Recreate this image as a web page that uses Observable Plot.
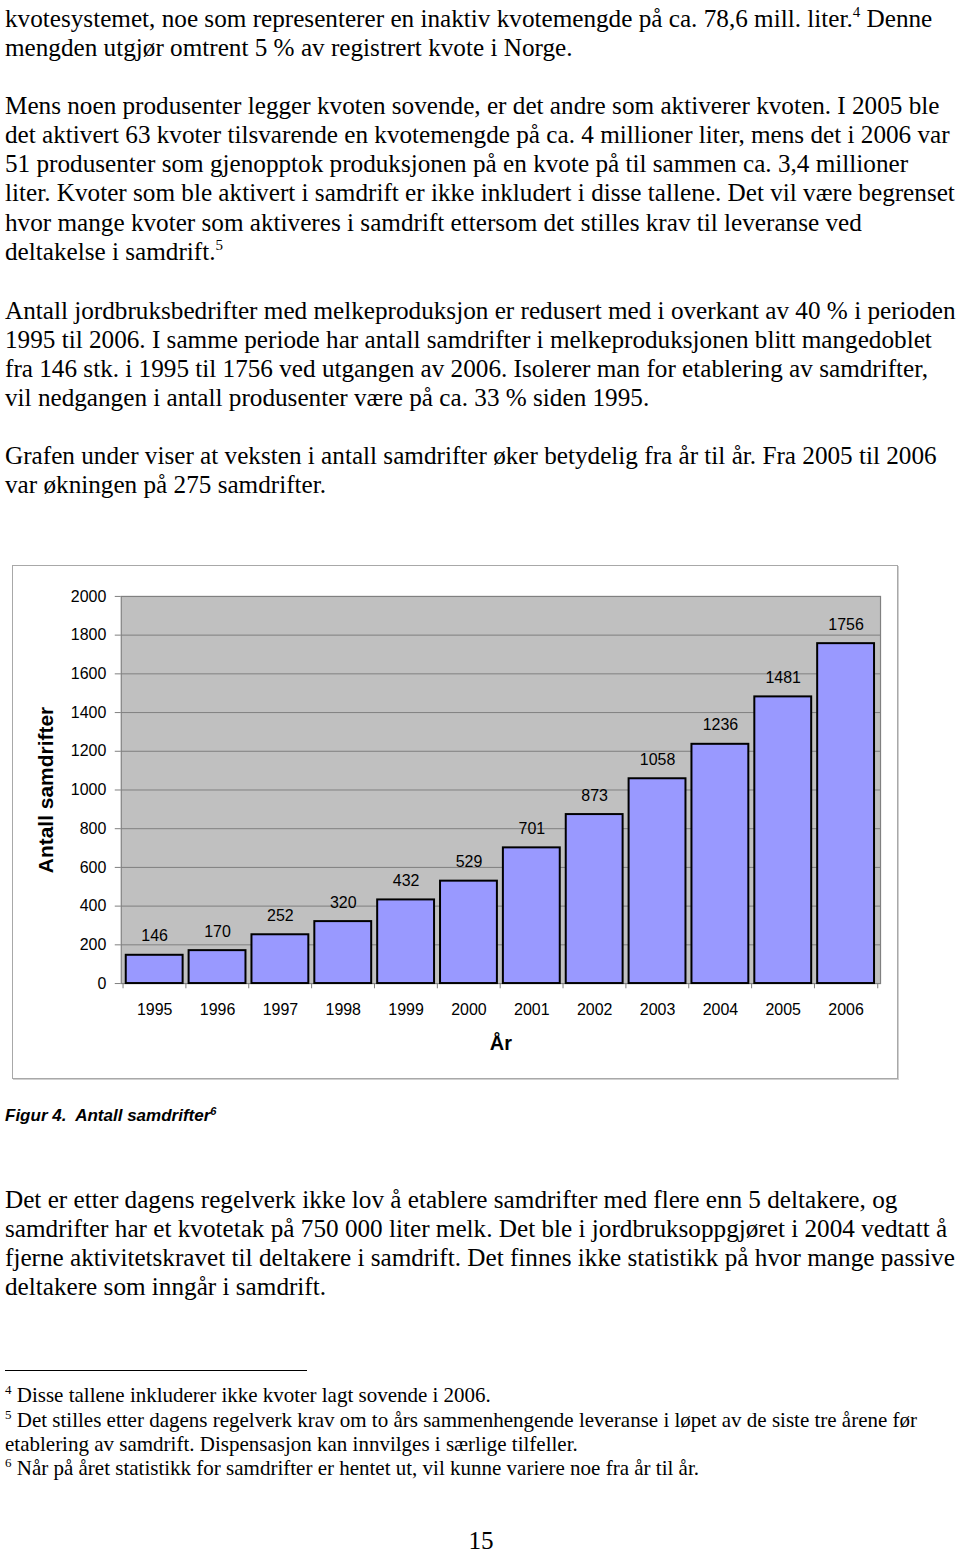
<!DOCTYPE html>
<html>
<head>
<meta charset="utf-8">
<script src="https://cdn.jsdelivr.net/npm/d3@7"></script>
<script src="https://cdn.jsdelivr.net/npm/@observablehq/plot@0.6"></script>
<style>
  html, body { margin: 0; padding: 0; background: #fff; }
  body { width: 960px; height: 1551px; position: relative; overflow: hidden; }
  .ln { position: absolute; left: 5px; white-space: nowrap; font-family: "Liberation Serif", "Times New Roman", serif; font-size: 25.2px; line-height: 29px; color: #000; }
  .ln sup { font-size: 15px; vertical-align: 0; position: relative; top: -10px; }
  .fn { position: absolute; left: 5px; white-space: nowrap; font-family: "Liberation Serif", "Times New Roman", serif; font-size: 21px; line-height: 24px; color: #000; }
  .fn sup { font-size: 13px; position: relative; top: -8px; vertical-align: 0; }
  #chartbox { position: absolute; left: 12px; top: 565px; width: 884px; height: 512px; border: 1px solid #a8a8a8; box-shadow: 1px 1px 0 #d0d0d0; }
  #chartbox svg { position: absolute; left: -1px; top: -1px; }
  #caption { position: absolute; left: 5px; top: 1105px; font-family: "Liberation Sans", Arial, sans-serif; font-weight: bold; font-style: italic; font-size: 17px; line-height: 22px; }
  #caption sup { font-size: 11px; position: relative; top: -6px; vertical-align: 0; }
  #rule { position: absolute; left: 5px; top: 1370px; width: 302px; height: 0; border-top: 1.5px solid #000; }
  #pagenum { position: absolute; left: 0; width: 962px; text-align: center; top: 1526px; font-family: "Liberation Serif", "Times New Roman", serif; font-size: 25.2px; line-height: 29px; }
</style>
</head>
<body>
<div id="text"></div>
<div id="chartbox"></div>
<div id="caption">Figur 4.&nbsp; Antall samdrifter<sup>6</sup></div>
<div id="rule"></div>
<div id="foot"></div>
<div id="pagenum">15</div>
<script>
// ---- chart data ----
const years = ["1995","1996","1997","1998","1999","2000","2001","2002","2003","2004","2005","2006"];
const counts = [146, 170, 252, 320, 432, 529, 701, 873, 1058, 1236, 1481, 1756];
const yTicks = [0, 200, 400, 600, 800, 1000, 1200, 1400, 1600, 1800, 2000];
const yLabel = "Antall samdrifter";
const xLabel = "År";

// ---- page text (line by line as in the original) ----
const bodyLines = [
  [18, "kvotesystemet, noe som representerer en inaktiv kvotemengde på ca. 78,6 mill. liter.<sup>4</sup> Denne"],
  [47, "mengden utgjør omtrent 5 % av registrert kvote i Norge."],
  [105, "Mens noen produsenter legger kvoten sovende, er det andre som aktiverer kvoten. I 2005 ble"],
  [134, "det aktivert 63 kvoter tilsvarende en kvotemengde på ca. 4 millioner liter, mens det i 2006 var"],
  [163, "51 produsenter som gjenopptok produksjonen på en kvote på til sammen ca. 3,4 millioner"],
  [192, "liter. Kvoter som ble aktivert i samdrift er ikke inkludert i disse tallene. Det vil være begrenset"],
  [222, "hvor mange kvoter som aktiveres i samdrift ettersom det stilles krav til leveranse ved"],
  [251, "deltakelse i samdrift.<sup>5</sup>"],
  [310, "Antall jordbruksbedrifter med melkeproduksjon er redusert med i overkant av 40 % i perioden"],
  [339, "1995 til 2006. I samme periode har antall samdrifter i melkeproduksjonen blitt mangedoblet"],
  [368, "fra 146 stk. i 1995 til 1756 ved utgangen av 2006. Isolerer man for etablering av samdrifter,"],
  [397, "vil nedgangen i antall produsenter være på ca. 33 % siden 1995."],
  [455, "Grafen under viser at veksten i antall samdrifter øker betydelig fra år til år. Fra 2005 til 2006"],
  [484, "var økningen på 275 samdrifter."],
  [1199, "Det er etter dagens regelverk ikke lov å etablere samdrifter med flere enn 5 deltakere, og"],
  [1228, "samdrifter har et kvotetak på 750 000 liter melk. Det ble i jordbruksoppgjøret i 2004 vedtatt å"],
  [1257, "fjerne aktivitetskravet til deltakere i samdrift. Det finnes ikke statistikk på hvor mange passive"],
  [1286, "deltakere som inngår i samdrift."]
];
const footLines = [
  [1395, "<sup>4</sup> Disse tallene inkluderer ikke kvoter lagt sovende i 2006."],
  [1420, "<sup>5</sup> Det stilles etter dagens regelverk krav om to års sammenhengende leveranse i løpet av de siste tre årene før"],
  [1444, "etablering av samdrift. Dispensasjon kan innvilges i særlige tilfeller."],
  [1468, "<sup>6</sup> Når på året statistikk for samdrifter er hentet ut, vil kunne variere noe fra år til år."]
];

const textDiv = document.getElementById("text");
for (const [cy, html] of bodyLines) {
  const d = document.createElement("div");
  d.className = "ln"; d.style.top = (cy - 14.5) + "px"; d.innerHTML = html;
  textDiv.appendChild(d);
}
const footDiv = document.getElementById("foot");
for (const [cy, html] of footLines) {
  const d = document.createElement("div");
  d.className = "fn"; d.style.top = (cy - 12) + "px"; d.innerHTML = html;
  footDiv.appendChild(d);
}

// ---- chart ----
const data = years.map((y, i) => ({year: y, value: counts[i]}));
const W = 886, H = 514;
const mL = 109, mR = 16, mT = 31, mB = 95;
const step = (W - mL - mR) / (12 - 0.09 + 2 * 0.045);

const chart = Plot.plot({
  width: W,
  height: H,
  marginLeft: mL,
  marginRight: mR,
  marginTop: mT,
  marginBottom: mB,
  style: {fontFamily: "'Liberation Sans', Arial, sans-serif", fontSize: "16px", color: "#000", background: "transparent", overflow: "visible"},
  x: {type: "band", domain: years, paddingInner: 0.09, paddingOuter: 0.045, label: null},
  y: {domain: [0, 2000], label: null},
  marks: [
    Plot.frame({fill: "#c0c0c0", stroke: "none"}),
    Plot.gridY(yTicks.filter(t => t > 0 && t < 2000), {stroke: "#808080", strokeOpacity: 1, strokeWidth: 1}),
    Plot.frame({stroke: "#808080", strokeWidth: 1.2}),
    Plot.ruleX(years, {x: d => d, dx: -step / 2, y1: 0, y2: -27, stroke: "#808080", strokeWidth: 1}),
    Plot.ruleX(years.slice(-1), {x: d => d, dx: step / 2, y1: 0, y2: -27, stroke: "#808080", strokeWidth: 1}),
    Plot.axisY({ticks: yTicks, tickFormat: d => String(d), tickSize: 6, tickPadding: 9, stroke: "#808080", fill: "#000", fontSize: 16, label: null}),
    Plot.axisX({tickSize: 0, tickPadding: 20, fill: "#000", fontSize: 16, label: null}),
    Plot.barY(data, {x: "year", y: "value", fill: "#9999ff", stroke: "#000", strokeWidth: 2}),
    Plot.text(data, {x: "year", y: "value", text: d => String(d.value), dy: -19, fill: "#000", fontSize: 16}),
    Plot.text([yLabel], {frameAnchor: "left", textAnchor: "middle", lineAnchor: "middle", dx: -75, rotate: -90, fontWeight: "bold", fontSize: 21, fill: "#000"}),
    Plot.text([xLabel], {frameAnchor: "bottom", lineAnchor: "middle", dy: 60, fontWeight: "bold", fontSize: 20, fill: "#000"})
  ]
});
document.getElementById("chartbox").appendChild(chart);
</script>
</body>
</html>
